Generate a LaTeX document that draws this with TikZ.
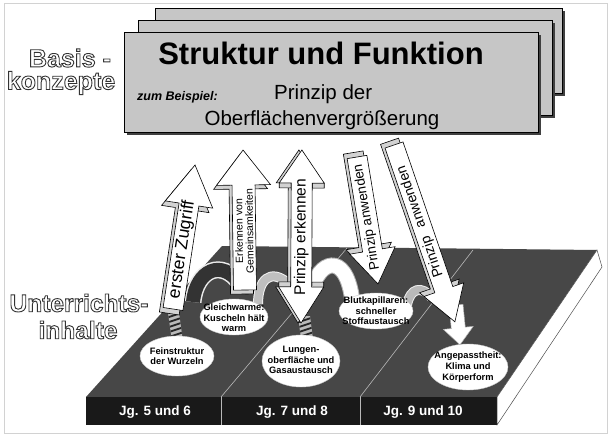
\documentclass[tikz,border=0pt]{standalone}
\usepackage{fontspec}
\setmainfont{Liberation Sans}
\usetikzlibrary{shapes.geometric}

% hollow (stroked) text
\newcommand{\hollow}[1]{\special{pdf:literal direct 1 Tr 0.9 w 0.2 G}#1\special{pdf:literal direct 0 Tr 0 G}}
% single block arrow: length, shaft half width, head half width, head length
\newcommand{\arrowpath}[4]{(0,-#2) -- ({#1-#4},-#2) -- ({#1-#4},-#3) -- (#1,0) -- ({#1-#4},#3) -- ({#1-#4},#2) -- (0,#2) -- cycle}
% double block arrow: length, shaft half width, head half width, head length 1, head length 2
\newcommand{\darrowpath}[5]{(0,0) -- (#4,#3) -- (#4,#2) -- ({#1-#5},#2) -- ({#1-#5},#3) -- (#1,0) -- ({#1-#5},-#3) -- ({#1-#5},-#2) -- (#4,-#2) -- (#4,-#3) -- cycle}

\tikzset{
  boxst/.style={fill=gray!45, draw=black, line width=0.8pt},
  boxshadow/.style={fill=black!75},
  arrfront/.style={fill=white, draw=black, line width=0.6pt, line join=miter},
  arrext/.style={fill=gray!35, draw=black, line width=0.6pt},
  atext/.style={font=\fontsize{#1}{#1}\selectfont, inner sep=0pt, align=center},
  efill/.style={fill=white, draw=gray!40, line width=0.4pt},
  etext/.style={inner sep=0pt, align=center, font=\bfseries\fontsize{9.3}{10.6}\selectfont},
  jglabel/.style={text=white, inner sep=0pt, font=\bfseries\fontsize{13.5}{14}\selectfont},
  outl/.style={inner sep=0pt, font=\bfseries\fontsize{#1}{#1}\selectfont},
  divider/.style={draw=gray!55, line width=0.6pt},
}

\begin{document}
\begin{tikzpicture}[x=1pt,y=-1pt]
\useasboundingbox (0,0) rectangle (609,435);
\fill[white] (0,0) rectangle (609,435);
\draw[gray!35, line width=0.6pt] (4,3) rectangle (607,433);

% ---- Basiskonzepte boxes
\fill[boxshadow] (158,11) rectangle (565,96);
\draw[boxst] (155,8) rectangle (562,93);
\fill[boxshadow] (141,23) rectangle (555,118);
\draw[boxst] (138,20) rectangle (552,115);
\fill[boxshadow] (127,35) rectangle (541,135);
\draw[boxst] (124,32) rectangle (538,132);

\node[anchor=base, inner sep=0pt, font=\bfseries\fontsize{31}{31}\selectfont] (title) at (321,65) {Struktur und Funktion};
\node[anchor=base west, inner sep=0pt, font=\bfseries\itshape\fontsize{12.5}{13}\selectfont] (zb) at (137,101) {zum Beispiel:};
\node[anchor=base west, inner sep=0pt, font=\fontsize{20.5}{21}\selectfont] (pd) at (274,100) {Prinzip der};
\node[anchor=base, inner sep=0pt, font=\fontsize{20.5}{21}\selectfont] (ofv) at (322,126) {Oberflächenvergrößerung};

% ---- outline labels
\node[outl=25] (basis) at (70,58) {\hollow{Basis -}};
\node[outl=25] (konz) at (61,83) {\hollow{konzepte}};
\node[outl=24.5] (unt) at (79,303) {\hollow{Unterrichts-}};
\node[outl=24.5] (inh) at (78,330) {\hollow{inhalte}};

% ---- platform
\fill[black!72] (222,246) -- (597,250) -- (497,397) -- (86,397) -- cycle;
\fill[black!90] (86,397) rectangle (497,425);
\filldraw[fill=white, draw=black!70, line width=0.5pt] (497,397) -- (597,250) -- (602,267) -- (497,425) -- cycle;
\draw[divider] (221,397) -- (347,248);
\draw[divider] (360,397) -- (473,250);
\draw[divider] (221,397) -- (221,425);
\draw[divider] (360,397) -- (360,425);
\node[jglabel] (jg1) at (155,412) {Jg. 5 und 6};
\node[jglabel] (jg2) at (292,412) {Jg. 7 und 8};
\node[jglabel] (jg3) at (423,412) {Jg. 9 und 10};

% ---- curved ribbons
\draw[line width=17pt, gray!15] (193,302) .. controls (196,270) and (222,258) .. (240,284);
\draw[line width=14pt, black!80] (193,302) .. controls (196,270) and (222,258) .. (240,284);
\draw[line width=10pt, gray!10] (258,304) .. controls (258,280) and (270,268) .. (288,283);
\draw[line width=8pt, gray!50] (258,304) .. controls (258,280) and (270,268) .. (288,283);
\draw[line width=16pt, gray!60] (312,290) .. controls (318,262) and (345,250) .. (352,298);
\draw[line width=14pt, white] (312,290) .. controls (318,262) and (345,250) .. (352,298);
\draw[line width=10pt, gray!15] (407,305) .. controls (410,288) and (422,285) .. (432,298);
\draw[line width=8pt, gray!55] (407,305) .. controls (410,288) and (422,285) .. (432,298);

% ---- hatched links
\begin{scope}
  \clip (167.5,309) -- (178.5,309) -- (182.5,338) -- (171.5,338) -- cycle;
  \fill[gray!55] (160,300) rectangle (190,345);
  \foreach \k in {0,...,9} \draw[black!85, line width=1.8pt] (160,{300+5*\k}) -- (190,{290+5*\k});
\end{scope}
\begin{scope}
  \clip (298,316) -- (310,316) -- (313,339) -- (301,339) -- cycle;
  \fill[gray!55] (290,305) rectangle (320,345);
  \foreach \k in {0,...,9} \draw[black!85, line width=1.8pt] (290,{310+5*\k}) -- (320,{300+5*\k});
\end{scope}

% ---- ellipses
\path[efill] (177,356) ellipse [x radius=37, y radius=20];
\node[etext] (e1) at (177,356) {Feinstruktur\\der Wurzeln};
\path[efill] (234,317) ellipse [x radius=34, y radius=18];
\node[etext] (e2) at (234,318) {Gleichwarme:\\Kuscheln hält\\warm};
\path[efill] (301,361) ellipse [x radius=39, y radius=26];
\node[etext] (e3) at (301,360) {Lungen-\\oberfläche und\\Gasaustausch};
\path[efill] (376,311) ellipse [x radius=37, y radius=18];
\node[etext] (e4) at (376,311) {Blutkapillaren:\\schneller\\Stoffaustausch};
\path[efill] (468,367) ellipse [x radius=40, y radius=23];
\node[etext] (e5) at (468,367) {Angepasstheit:\\Klima und\\Körperform};

% ---- block arrows
% erster Zugriff
\begin{scope}[shift={(173,309)}, rotate=81.3]
  \draw[arrext, shift={(-5,-3)}] \arrowpath{145.7}{10}{24}{40};
  \draw[arrfront] \arrowpath{145.7}{10}{24}{40};
  \coordinate (a1tip) at (145.7,0);
  \node[atext=17.5, transform shape] (a1) at (60,0) {erster Zugriff};
\end{scope}
% Erkennen von Gemeinsamkeiten
\begin{scope}[shift={(245,290)}, rotate=90.8]
  \draw[arrext, shift={(-4,-3)}] \arrowpath{140}{11.5}{27}{35};
  \draw[arrfront] \arrowpath{140}{11.5}{27}{35};
  \coordinate (a2tip) at (140,0);
  \node[atext=10.5, transform shape] (a2) at (59,0) {Erkennen von\\Gemeinsamkeiten};
\end{scope}
% Prinzip erkennen (double)
\begin{scope}[shift={(301,323)}, rotate=89.7]
  \draw[arrext, shift={(0,-3)}] \darrowpath{173}{10.5}{22.5}{36}{33};
  \draw[arrext] (36,10.5) rectangle (41,22.5);
  \draw[arrext] (36,-10.5) rectangle (41,-22.5);
  \draw[arrext] (135,10.5) rectangle (140,22.5);
  \draw[arrext] (135,-10.5) rectangle (140,-22.5);
  \draw[arrfront] \darrowpath{173}{10.5}{22.5}{36}{33};
  \node[atext=15.5, transform shape] (a3) at (86,0) {Prinzip erkennen};
\end{scope}
% Prinzip anwenden (1)
\begin{scope}[shift={(357,157)}, rotate=-80.6]
  \draw[arrext, shift={(-5,3)}] \arrowpath{128.7}{10}{23}{34};
  \draw[arrfront] \arrowpath{128.7}{10}{23}{34};
  \node[atext=13.5, transform shape, rotate=180] (a4) at (61,0) {Prinzip anwenden};
\end{scope}
% small arrow to Angepasstheit
\begin{scope}[shift={(456,305)}, rotate=-84.3]
  \draw[fill=white, draw=gray!60, line width=0.5pt] \arrowpath{40}{7}{15}{17};
  \coordinate (a6tip) at (40,0);
\end{scope}
% Prinzip anwenden (2)
\begin{scope}[shift={(394,145)}, rotate=-71]
  \draw[arrext, shift={(-5,3)}] \arrowpath{187}{9.5}{21}{34};
  \draw[arrfront] \arrowpath{187}{9.5}{21}{34};
  \node[atext=14, transform shape, rotate=180] (a5) at (81,0) {Prinzip\hspace{10pt}anwenden};
\end{scope}
\end{tikzpicture}
\end{document}
